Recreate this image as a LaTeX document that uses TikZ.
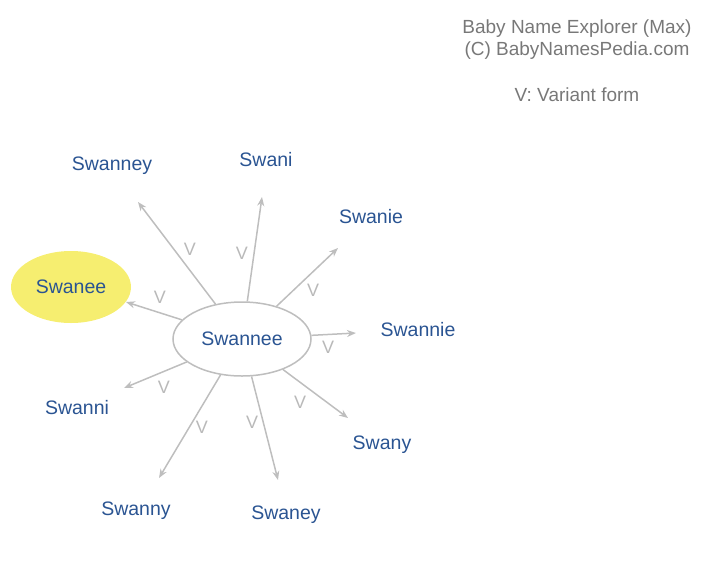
\documentclass[tikz,border=0pt]{standalone}
\usepackage{fontspec}
\setmainfont{Liberation Sans}
\usetikzlibrary{shapes.geometric,arrows.meta}
\definecolor{nameblue}{RGB}{42,84,146}
\definecolor{linegray}{RGB}{190,190,190}
\definecolor{vgray}{RGB}{185,185,185}
\definecolor{infogray}{RGB}{120,120,120}
\definecolor{hilite}{RGB}{246,238,112}
\tikzset{
  namelbl/.style={text=nameblue,font=\fontsize{19.5}{21}\selectfont,inner sep=0pt},
  vlbl/.style={text=vgray,font=\fontsize{18}{20}\selectfont,inner sep=0pt},
  infolbl/.style={text=infogray,font=\fontsize{19}{21}\selectfont,inner sep=0pt},
  rel/.style={draw=linegray,line width=1.5pt,-{Stealth[length=9pt,width=7pt]}},
  centre/.style={ellipse,draw=linegray,line width=1.5pt,fill=white,minimum width=138pt,minimum height=74pt,inner sep=0pt,text=nameblue,font=\fontsize{19.5}{21}\selectfont},
  highlight/.style={ellipse,fill=hilite,minimum width=120pt,minimum height=72pt,inner sep=0pt,text=nameblue,font=\fontsize{19.5}{21}\selectfont}
}
\begin{document}
\begin{tikzpicture}[x=1pt,y=-1pt]
\useasboundingbox (0,0) rectangle (720,563);
% info text
\node[infolbl] (info1) at (577,29) {Baby Name Explorer (Max)};
\node[infolbl] (info2) at (577,51) {(C) BabyNamesPedia.com};
\node[infolbl] (info3) at (577,95) {V: Variant form};
% nodes
\node[highlight] (swanee) at (71,287) {Swanee};
\node[centre] (c) at (242,339) {Swannee};
\node[namelbl] (swanney) at (112,166) {Swanney};
\node[namelbl] (swani) at (266,160) {Swani};
\node[namelbl] (swanie) at (371,217) {Swanie};
\node[namelbl] (swannie) at (418,330) {Swannie};
\node[namelbl] (swanni) at (77,408) {Swanni};
\node[namelbl] (swany) at (382,445) {Swany};
\node[namelbl] (swanny) at (136,511) {Swanny};
\node[namelbl] (swaney) at (286,515) {Swaney};
% arrow tips
\coordinate (t1) at (138,202);
\coordinate (t2) at (262,197);
\coordinate (t3) at (338,248);
\coordinate (t4) at (126,302);
\coordinate (t5) at (356,333);
\coordinate (t6) at (124,388);
\coordinate (t7) at (159,478);
\coordinate (t8) at (278,480);
\coordinate (t9) at (348,418);
% connectors
\draw[rel] (c) -- (t1);
\draw[rel] (c) -- (t2);
\draw[rel] (c) -- (t3);
\draw[rel] (c) -- (t4);
\draw[rel] (c) -- (t5);
\draw[rel] (c) -- (t6);
\draw[rel] (c) -- (t7);
\draw[rel] (c) -- (t8);
\draw[rel] (c) -- (t9);
% V labels
\node[vlbl] (v1) at (190,249) {V};
\node[vlbl] (v2) at (242,253) {V};
\node[vlbl] (v3) at (313,290) {V};
\node[vlbl] (v4) at (160,297) {V};
\node[vlbl] (v5) at (328,347) {V};
\node[vlbl] (v6) at (164,387) {V};
\node[vlbl] (v7) at (202,427) {V};
\node[vlbl] (v8) at (252,422) {V};
\node[vlbl] (v9) at (300,402) {V};
\end{tikzpicture}
\end{document}
